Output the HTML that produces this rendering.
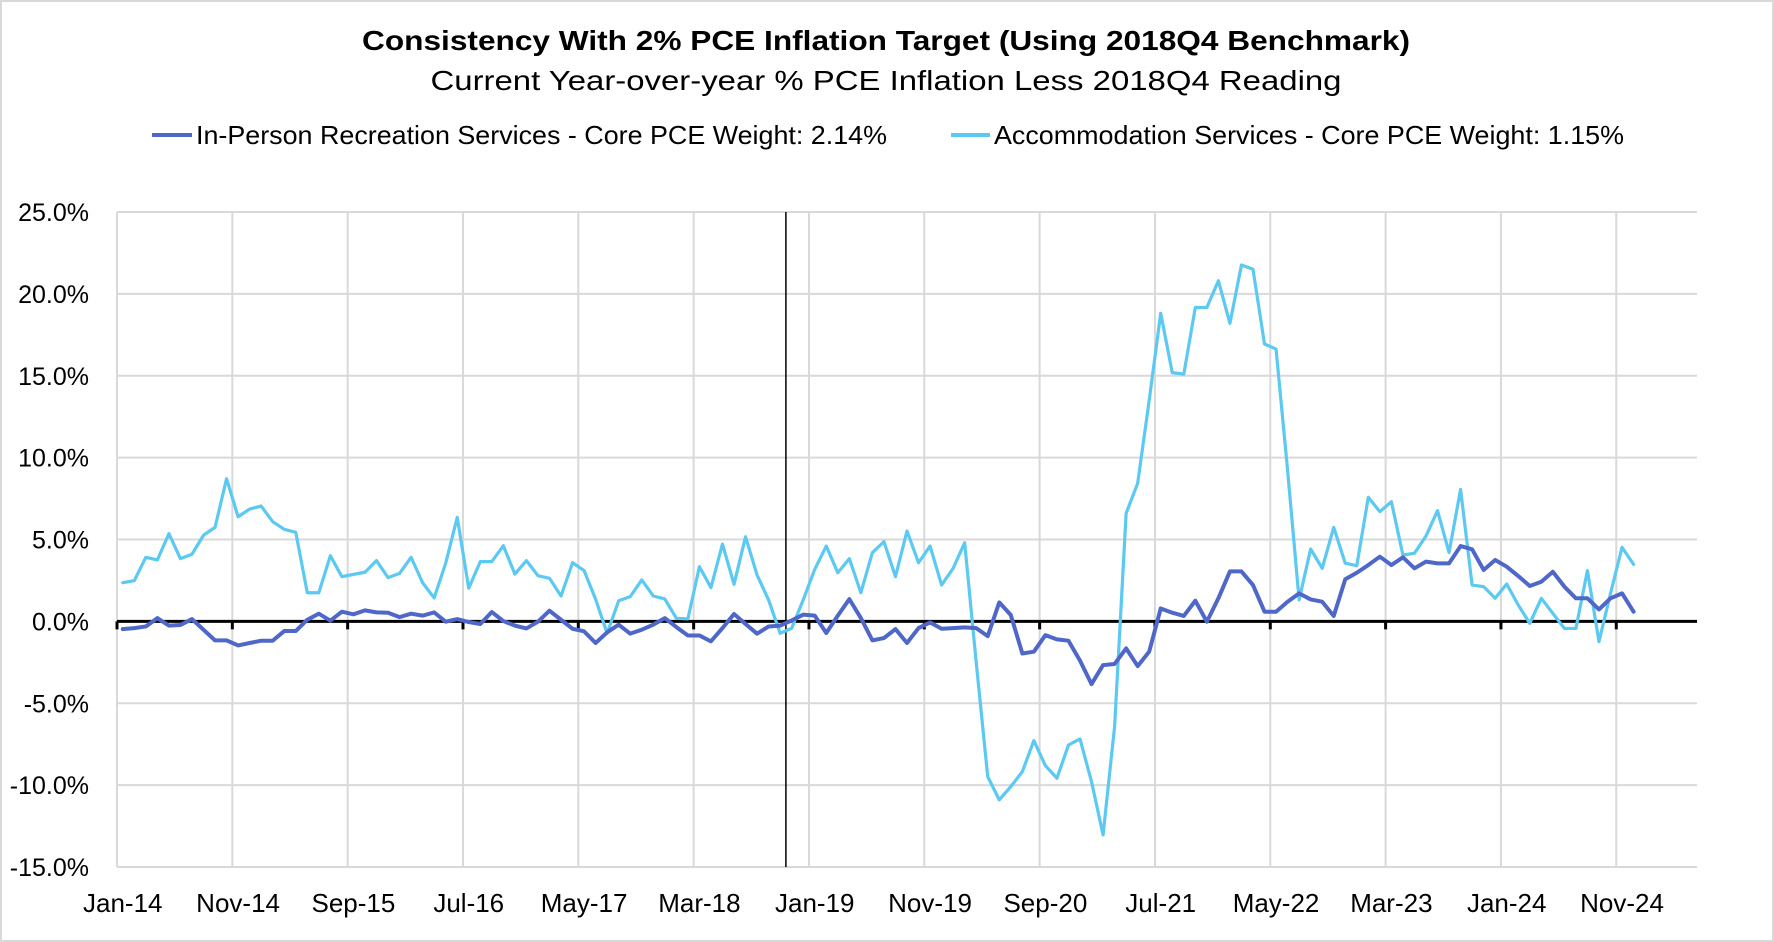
<!DOCTYPE html>
<html>
<head>
<meta charset="utf-8">
<style>
  html, body { margin: 0; padding: 0; background: #ffffff; }
  svg { display: block; font-family: "Liberation Sans", "DejaVu Sans", sans-serif; }
</style>
</head>
<body>
<svg id="chart" width="1774" height="942" viewBox="0 0 1774 942" xmlns="http://www.w3.org/2000/svg">
  <rect x="1" y="1" width="1772" height="940" fill="#ffffff" stroke="#d9d9d9" stroke-width="2"/>
  <text x="886" y="50" text-anchor="middle" font-size="28" font-weight="bold" textLength="1048" lengthAdjust="spacingAndGlyphs" fill="#000">Consistency With 2% PCE Inflation Target (Using 2018Q4 Benchmark)</text>
  <text x="886" y="90" text-anchor="middle" font-size="28" textLength="911" lengthAdjust="spacingAndGlyphs" fill="#000">Current Year-over-year % PCE Inflation Less 2018Q4 Reading</text>
  <g>
    <g>
      <line x1="152" y1="135" x2="192" y2="135" stroke="#4F67C9" stroke-width="4"/>
      <text x="196" y="144" font-size="26" textLength="691" lengthAdjust="spacingAndGlyphs" fill="#000">In-Person Recreation Services - Core PCE Weight: 2.14%</text>
    </g>
    <g>
      <line x1="951" y1="135" x2="990" y2="135" stroke="#5BC9F1" stroke-width="4"/>
      <text x="994" y="144" font-size="26" textLength="630" lengthAdjust="spacingAndGlyphs" fill="#000">Accommodation Services - Core PCE Weight: 1.15%</text>
    </g>
  </g>
  <g id="grid"></g>
  <g id="yaxis"></g>
  <g id="xaxis"></g>
  <g id="series"></g>
</svg>
<script>
const categoryStart = "Jan-14";
const categoryCount = 137;
const yTicks = [25, 20, 15, 10, 5, 0, -5, -10, -15];
const yTickLabels = ["25.0%", "20.0%", "15.0%", "10.0%", "5.0%", "0.0%", "-5.0%", "-10.0%", "-15.0%"];
const xTickLabels = ["Jan-14","Nov-14","Sep-15","Jul-16","May-17","Mar-18","Jan-19","Nov-19","Sep-20","Jul-21","May-22","Mar-23","Jan-24","Nov-24"];
const benchmarkIndex = 58;
const recreation = [
  -0.47,-0.41,-0.31,0.2,-0.26,-0.22,0.14,-0.51,-1.16,-1.16,
  -1.47,-1.32,-1.18,-1.18,-0.59,-0.59,0.1,0.47,0.04,0.59,
  0.43,0.67,0.55,0.53,0.26,0.47,0.35,0.55,-0.02,0.14,
  -0.04,-0.16,0.57,0.02,-0.26,-0.43,-0.02,0.65,0.1,-0.45,
  -0.61,-1.32,-0.67,-0.2,-0.75,-0.51,-0.2,0.2,-0.35,-0.86,
  -0.86,-1.22,-0.41,0.45,-0.16,-0.75,-0.31,-0.26,0.06,0.41,
  0.35,-0.71,0.35,1.36,0.2,-1.16,-1.02,-0.47,-1.32,-0.41,
  -0.06,-0.45,-0.41,-0.37,-0.41,-0.9,1.16,0.39,-1.96,-1.85,
  -0.84,-1.1,-1.18,-2.4,-3.83,-2.67,-2.6,-1.65,-2.73,-1.85,
  0.79,0.53,0.33,1.26,-0.02,1.41,3.05,3.05,2.22,0.59,
  0.59,1.2,1.71,1.34,1.2,0.33,2.57,2.97,3.44,3.95,
  3.44,3.91,3.24,3.65,3.54,3.54,4.6,4.4,3.14,3.75,
  3.34,2.77,2.16,2.42,3.03,2.12,1.41,1.41,0.73,1.41,1.71,0.59
];
const accommodation = [
  2.36,2.49,3.91,3.75,5.36,3.83,4.1,5.26,5.74,8.71,
  6.39,6.86,7.04,6.09,5.62,5.44,1.75,1.75,4.01,2.73,
  2.87,3.0,3.71,2.67,2.93,3.91,2.36,1.43,3.55,6.35,
  2.02,3.65,3.65,4.62,2.89,3.71,2.79,2.63,1.55,3.58,
  3.1,1.35,-0.73,1.26,1.51,2.53,1.55,1.37,0.19,0.15,
  3.34,2.06,4.72,2.26,5.17,2.83,1.31,-0.73,-0.42,1.31,
  3.18,4.6,2.97,3.83,1.75,4.2,4.87,2.73,5.52,3.58,
  4.6,2.22,3.24,4.8,-2.5,-9.48,-10.9,-10.09,-9.18,-7.28,
  -8.81,-9.58,-7.55,-7.18,-9.79,-13.04,-6.43,6.6,8.43,13.5,
  18.81,15.19,15.1,19.17,19.17,20.8,18.2,21.76,21.5,16.94,
  16.63,9.24,1.31,4.42,3.24,5.74,3.55,3.4,7.58,6.7,
  7.31,4.05,4.16,5.21,6.76,4.2,8.06,2.22,2.12,1.41,
  2.28,1.0,-0.12,1.41,0.49,-0.43,-0.43,3.1,-1.24,1.7,4.52,3.48
];

const NS = "http://www.w3.org/2000/svg";
const plotLeft = 117, plotRight = 1697, plotTop = 212, plotBottom = 867;
const yMax = 25, yMin = -15;
const step = (plotRight - plotLeft) / categoryCount;
function xBoundary(i) { return plotLeft + step * i; }
function xCenter(i) { return plotLeft + step * (i + 0.5); }
function yScale(v) { return plotTop + (yMax - v) / (yMax - yMin) * (plotBottom - plotTop); }
function mk(tag, attrs, parent) {
  const el = document.createElementNS(NS, tag);
  for (const k in attrs) el.setAttribute(k, attrs[k]);
  parent.appendChild(el);
  return el;
}
const grid = document.getElementById('grid');
const yaxis = document.getElementById('yaxis');
const xaxis = document.getElementById('xaxis');
const series = document.getElementById('series');

// horizontal gridlines + y labels
yTicks.forEach((v, k) => {
  const y = yScale(v);
  if (v !== 0) {
    const gl = mk('line', {x1: plotLeft, x2: plotRight, y1: y, y2: y, stroke: '#d9d9d9', 'stroke-width': 2}, grid);
    
    
  }
  const t = mk('text', {x: 89, y: y + 9, 'text-anchor': 'end', 'font-size': 25, fill: '#000'}, yaxis);
  t.textContent = yTickLabels[k];
  
  
});
// vertical gridlines every 10 categories + x labels
xTickLabels.forEach((lab, k) => {
  const i = k * 10;
  const x = xBoundary(i);
  const gl = mk('line', {x1: x, x2: x, y1: plotTop, y2: plotBottom, stroke: '#d9d9d9', 'stroke-width': 2}, grid);
  
  
  const tk = mk('line', {x1: x, x2: x, y1: yScale(0), y2: yScale(0) + 8, stroke: '#000', 'stroke-width': 3}, xaxis);
  
  
  const t = mk('text', {x: xCenter(i), y: 912, 'text-anchor': 'middle', 'font-size': 26, fill: '#000'}, xaxis);
  t.textContent = lab;
  
  
});
// bottom gridline
const bl = mk('line', {x1: plotLeft, x2: plotRight, y1: plotBottom, y2: plotBottom, stroke: '#d9d9d9', 'stroke-width': 2}, grid);


// zero axis line
const zl = mk('line', {x1: plotLeft, x2: plotRight, y1: yScale(0), y2: yScale(0), stroke: '#000', 'stroke-width': 3}, xaxis);


// benchmark vertical line
const bx = xBoundary(benchmarkIndex);
const vl = mk('line', {x1: bx, x2: bx, y1: plotTop, y2: plotBottom, stroke: '#000', 'stroke-width': 1.5}, grid);



function drawSeries(vals, color, width, name) {
  const pts = vals.map((v, i) => xCenter(i).toFixed(2) + ',' + yScale(v).toFixed(2)).join(' ');
  const pl = mk('polyline', {points: pts, fill: 'none', stroke: color, 'stroke-width': width, 'stroke-linejoin': 'round', 'stroke-linecap': 'round'}, series);
  
  
}
drawSeries(accommodation, '#5BC9F1', 3.2, 'accommodation-services-line');
drawSeries(recreation, '#4F67C9', 4, 'in-person-recreation-line');
</script>
</body>
</html>
